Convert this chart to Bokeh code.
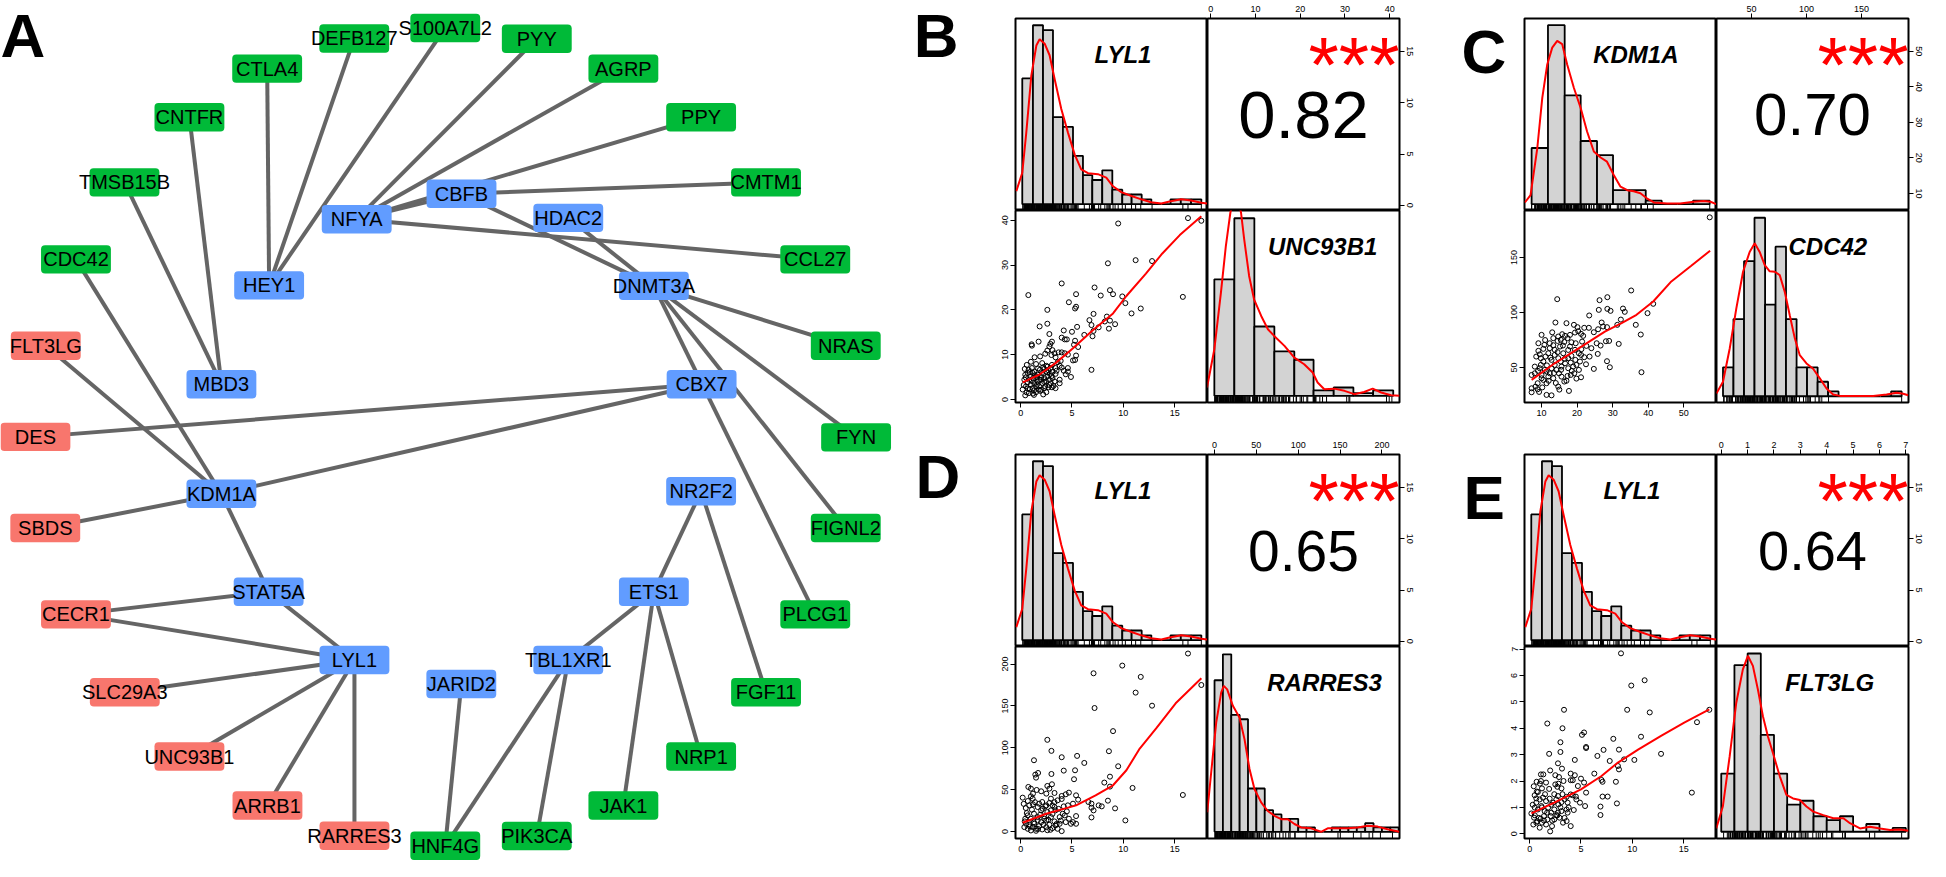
from bokeh.plotting import figure
from bokeh.models import Range1d, LinearAxis, FixedTicker, Spacer
from bokeh.layouts import row, column
from bokeh.embed import file_html
from bokeh.resources import INLINE
from bokeh.core.properties import value

FONT = "Liberation Sans"

# ---------------- Panel A: network ----------------
node_names = ["CTLA4", "DEFB127", "S100A7L2", "PYY", "AGRP", "PPY", "CMTM1", "CCL27", "NRAS", "FYN",
              "FIGNL2", "PLCG1", "FGF11", "NRP1", "JAK1", "PIK3CA", "HNF4G", "CDC42", "TMSB15B", "CNTFR",
              "RARRES3", "ARRB1", "UNC93B1", "SLC29A3", "CECR1", "SBDS", "DES", "FLT3LG",
              "HEY1", "NFYA", "CBFB", "HDAC2", "DNMT3A", "CBX7", "NR2F2", "ETS1", "TBL1XR1", "JARID2",
              "LYL1", "STAT5A", "KDM1A", "MBD3"]
node_x = [271, 359.5, 452, 545, 633, 712, 778, 828, 859, 869.5,
          859, 828, 778, 712, 633, 545, 452, 76.7, 126, 192,
          359.7, 271.3, 192, 126.3, 76.7, 45.5, 35.5, 46,
          273, 362, 468.5, 577, 664, 712.5, 712, 664, 577, 468.3,
          359.7, 272.5, 224.5, 224.5]
node_y = [69.5, 38.7, 28, 39, 69.5, 119, 185.5, 264, 352, 445.5,
          538, 626, 705.5, 771, 821, 852, 862, 264, 185.5, 119,
          851.7, 821, 771, 705.5, 626, 538, 445, 352,
          290.5, 223, 197, 221.7, 291, 391.3, 500.5, 603, 672.5, 697,
          672.5, 603, 503, 391.3]
node_group = ["green"] * 20 + ["red"] * 8 + ["blue"] * 14
group_colors = {"green": "#00BA38", "red": "#F8766D", "blue": "#619CFF"}
edges = [("HEY1", "CTLA4"), ("HEY1", "DEFB127"), ("HEY1", "S100A7L2"),
         ("NFYA", "PYY"), ("NFYA", "AGRP"), ("NFYA", "PPY"), ("NFYA", "CBFB"), ("NFYA", "CCL27"),
         ("CBFB", "CMTM1"), ("CBFB", "DNMT3A"), ("HDAC2", "DNMT3A"),
         ("DNMT3A", "NRAS"), ("DNMT3A", "FYN"), ("DNMT3A", "FIGNL2"), ("DNMT3A", "PLCG1"),
         ("CBX7", "DES"), ("CBX7", "KDM1A"), ("MBD3", "TMSB15B"), ("MBD3", "CNTFR"),
         ("KDM1A", "CDC42"), ("KDM1A", "FLT3LG"), ("KDM1A", "SBDS"), ("KDM1A", "STAT5A"),
         ("STAT5A", "CECR1"), ("STAT5A", "LYL1"),
         ("LYL1", "CECR1"), ("LYL1", "SLC29A3"), ("LYL1", "UNC93B1"), ("LYL1", "ARRB1"), ("LYL1", "RARRES3"),
         ("JARID2", "HNF4G"), ("TBL1XR1", "HNF4G"), ("TBL1XR1", "PIK3CA"), ("TBL1XR1", "ETS1"),
         ("ETS1", "NR2F2"), ("ETS1", "JAK1"), ("ETS1", "NRP1"), ("NR2F2", "FGF11")]
panel_letters = ["A", "B", "D"]
letter_x = [0, 928, 930]
letter_y = [36, 36, 485]

# ---------------- Panels B-E: pairs plots ----------------
lyl1_edges = [0.16, 1.2, 2.18, 3.15, 4.12, 5.1, 6.07, 6.98, 7.95, 8.93, 9.9, 10.81, 11.79, 12.73, 13.7, 14.6, 15.6, 16.6, 17.6]
lyl1_counts = [26, 37, 36, 18, 16, 10, 6, 5, 7, 3, 2, 2, 1, 0, 0, 1, 1, 1]
lyl1_density = [(-0.42, 2.7), (0.16, 6.5), (0.55, 14.8), (1.04, 26.6), (1.53, 32.8), (1.85, 34.1), (2.34, 33.2),
                (2.82, 30.8), (3.31, 25.9), (3.96, 19.7), (4.61, 14.8), (5.26, 10.3), (5.9, 7.2), (6.56, 6.4),
                (7.53, 6.2), (8.34, 5.5), (9.0, 3.7), (9.8, 2.5), (10.8, 1.7), (11.75, 1.0), (12.7, 0.4),
                (13.7, 0.14), (14.5, 0.55), (15.65, 1.0), (16.6, 0.76), (17.6, 0.28), (18.2, 0.14)]
unc_edges = [0.83, 5.3, 9.77, 14.24, 18.7, 23.0, 27.5, 31.9, 36.3, 40.8]
unc_counts = [42, 64, 25, 16, 13, 2, 3, 1, 2]
unc_density = [(-0.81, 3.0), (0.83, 16.8), (2.3, 37.2), (3.4, 54.0), (4.4, 65.9), (5.7, 75.5), (6.8, 65.9),
               (7.5, 56.4), (8.6, 43.2), (9.7, 34.8), (11.3, 28.8), (12.8, 24.0), (14.2, 21.6), (16.5, 18.0),
               (18.7, 13.8), (20.9, 11.4), (22.8, 8.4), (23.9, 4.8), (25.4, 2.4), (27.6, 2.6), (29.9, 1.8),
               (32.1, 0.6), (34.3, 1.4), (36.2, 2.6), (38.1, 1.2), (40.3, 0.24), (42.2, 0.0)]
kdm_edges = [7.2, 11.8, 16.5, 21.0, 25.6, 30.1, 34.7, 39.3, 43.8, 48.3, 52.6, 57.3]
kdm_counts = [16, 51, 31, 18, 14, 4, 4, 1, 0, 0, 1]
kdm_density = [(5.3, 0.48), (6.9, 2.6), (8.8, 16.0), (10.2, 30.3), (11.6, 39.8), (13.0, 44.6), (14.4, 46.5),
               (15.8, 45.6), (17.2, 39.8), (19.1, 33.1), (21.0, 27.4), (22.8, 20.7), (24.7, 15.0), (26.6, 13.3),
               (28.4, 12.1), (30.3, 8.3), (32.2, 5.0), (34.1, 4.0), (35.9, 3.7), (37.8, 3.1), (39.7, 1.6),
               (41.6, 0.5), (45.3, 0.2), (49.0, 0.2), (52.8, 0.7), (55.6, 0.9), (57.5, 0.7), (59.2, 0.0)]
cdc_edges = [24.2, 33.7, 43.3, 52.8, 62.4, 71.9, 81.4, 91.0, 100.5, 110.1, 119.6, 129.1, 138.7, 148.2,
             157.8, 167.3, 176.8, 186.4]
cdc_counts = [6, 16, 28, 37, 19, 31, 16, 6, 6, 3, 1, 0, 0, 0, 0, 0, 1]
cdc_density = [(18.2, 0.55), (24.2, 3.0), (30.3, 9.9), (36.3, 18.2), (42.4, 25.8), (48.4, 29.9), (53.0, 31.7),
               (57.5, 29.9), (62.1, 27.2), (66.6, 25.9), (71.2, 25.8), (75.7, 25.1), (80.3, 21.6), (84.8, 16.8),
               (89.4, 12.0), (93.9, 8.5), (100.0, 6.8), (106.0, 5.7), (112.1, 3.7), (118.2, 1.6), (124.2, 0.35),
               (130.3, 0.07), (145.4, 0.07), (160.6, 0.07), (172.7, 0.35), (181.8, 0.7), (187.8, 0.5), (192.4, 0.2)]
rar_edges = [0, 10, 20, 30, 40, 50, 60, 70, 80, 90, 100, 110, 120, 130, 140, 150, 160, 170, 180, 190, 200, 210, 220]
rar_counts = [35, 41, 27, 26, 10, 10, 5, 4, 3, 3, 1, 1, 0, 0, 1, 1, 1, 1, 2, 1, 1, 1]
rar_density = [(-8.75, 4.5), (-4.0, 13.7), (2.0, 25.2), (8.0, 32.2), (11.1, 33.7), (15.1, 32.9), (21.9, 29.1),
               (29.8, 26.4), (35.8, 21.4), (41.8, 14.5), (47.7, 9.9), (55.7, 6.8), (63.6, 4.8), (71.6, 3.7),
               (79.6, 2.9), (87.5, 2.9), (95.5, 1.8), (103.4, 1.0), (115.4, 0.8), (127.3, 0.0), (135.2, 0.8),
               (147.2, 0.8), (159.1, 0.8), (171.0, 1.0), (183.0, 1.4), (194.9, 1.2), (206.8, 0.6), (220.8, 0.0)]
flt_edges = [0, 0.5, 1.0, 1.5, 2.0, 2.5, 3.0, 3.5, 4.0, 4.5, 5.0, 5.5, 6.0, 6.5, 7.0]
flt_counts = [15, 43, 46, 25, 15, 7, 8, 4, 3, 4, 0, 2, 0, 1]
flt_density = [(-0.19, 0.86), (0.06, 6.5), (0.32, 19.5), (0.57, 33.3), (0.82, 41.9), (1.01, 45.4), (1.2, 42.8),
               (1.39, 36.7), (1.58, 29.8), (1.77, 24.6), (1.96, 20.3), (2.22, 14.3), (2.47, 9.5), (2.72, 8.6),
               (2.98, 8.2), (3.23, 6.5), (3.49, 5.2), (3.87, 4.3), (4.25, 3.5), (4.63, 3.5), (4.88, 2.2),
               (5.26, 0.86), (5.64, 1.3), (6.02, 0.86), (6.4, 0.43), (6.78, 0.6), (7.1, 0.26)]

B_points = [(9.5, 39.3), (16.3, 40.5), (17.6, 39.9), (8.5, 30.4), (11.2, 31.1), (12.8, 30.9), (0.75, 23.3), (4.0, 25.9),
            (5.4, 23.5), (7.2, 25.0), (8.7, 24.4), (9.0, 23.5), (7.8, 23.2), (9.9, 23.0), (15.8, 22.9), (4.7, 21.7),
            (5.3, 20.3), (5.4, 20.7), (2.6, 20.0), (10.2, 21.5), (11.7, 20.3), (10.8, 19.2), (7.1, 19.1), (8.4, 18.5),
            (8.7, 17.6), (8.2, 17.4), (9.2, 16.8), (6.7, 17.7), (6.9, 16.6), (7.6, 16.1), (8.6, 15.8), (7.1, 15.3),
            (1.85, 16.3), (2.6, 16.9), (4.2, 15.4), (5.0, 15.1), (5.5, 16.2), (2.8, 14.6), (6.2, 14.4), (7.0, 14.1),
            (4.0, 13.8), (4.3, 13.4), (4.5, 13.4), (5.3, 13.1), (1.07, 12.3), (1.1, 12.0), (1.75, 12.9), (3.05, 12.9),
            (2.9, 12.4), (2.8, 11.8), (5.2, 12.2), (5.6, 11.7), (2.6, 10.9), (3.1, 11.0), (3.3, 10.3), (3.7, 10.5),
            (4.0, 10.5), (4.3, 10.3), (4.6, 10.0), (5.4, 9.8), (1.36, 9.4), (3.4, 9.4), (3.0, 9.9), (5.3, 8.8),
            (5.1, 8.7), (0.6, 7.7), (1.5, 7.9), (2.5, 7.5), (2.1, 8.1), (6.9, 6.6), (3.8, 7.5), (4.0, 7.1),
            (4.6, 7.0), (4.6, 6.2), (3.1, 6.1), (3.4, 5.7), (4.9, 5.0), (4.4, 5.6), (3.8, 4.4), (3.8, 3.6),
            (3.05, 2.7), (2.7, 2.7), (2.3, 2.5), (1.8, 2.9), (0.45, 0.9), (0.2, 2.2), (1.2, 1.3), (1.5, 1.6),
            (2.0, 2.15), (0.52, 2.9), (0.68, 3.8), (0.84, 4.4), (1.0, 5.1), (1.17, 5.9), (0.78, 6.6), (1.1, 7.0),
            (1.33, 6.2), (1.66, 5.5), (1.88, 6.6), (2.08, 5.9), (2.3, 6.8), (2.47, 6.2), (2.7, 6.5), (2.86, 5.7),
            (2.6, 5.1), (2.3, 4.75), (1.98, 4.4), (1.66, 4.0), (1.33, 3.6), (1.0, 3.3), (1.17, 2.5), (1.5, 2.9),
            (2.14, 3.6), (2.47, 4.0), (2.8, 4.4), (3.1, 4.75), (3.3, 4.0), (0.36, 4.4), (0.45, 5.5), (0.68, 5.9),
            (0.9, 2.3), (1.75, 2.15), (2.4, 2.9), (2.95, 3.6), (3.4, 2.5), (2.6, 7.3), (3.05, 7.7), (3.4, 7.0),
            (1.23, 4.75), (1.56, 5.0), (0.58, 1.56), (1.8, 4.4),
            (0.3, 3.2), (0.5, 4.9), (0.7, 2.4), (0.9, 6.1), (1.1, 4.1), (1.3, 2.0), (1.4, 5.4), (1.6, 3.3),
            (1.7, 6.9), (1.9, 1.9), (2.0, 5.0), (2.2, 7.2), (2.3, 3.9), (2.5, 1.6), (2.6, 6.0), (2.8, 3.2),
            (2.9, 7.0), (3.0, 5.2), (3.2, 3.0), (3.5, 6.4), (3.6, 8.3), (0.4, 6.8), (1.0, 8.4), (1.9, 9.6),
            (2.4, 10.2), (3.9, 8.6), (4.2, 6.4), (1.3, 1.0), (0.8, 1.4), (2.2, 1.1)]
C_points = [(57.3, 186.4), (14.4, 112.1), (35.2, 120), (28.5, 113.9), (26.3, 111.2), (26.1, 102.4), (28.5, 103.3),
            (29.4, 101.5), (32.9, 103.6), (33.4, 100.6), (41.4, 107.9), (39.8, 99.4), (23.4, 97.3), (13.9, 90.9),
            (17.0, 90.3), (26.9, 90.9), (32.3, 93.6), (31.3, 88.8), (36.5, 88.8), (19.1, 88.8), (20.1, 86.7),
            (22.0, 86.1), (23.3, 86.1), (25.9, 84.8), (27.3, 87.3), (28.4, 86.7), (10.0, 79.7), (14.7, 78.2),
            (15.8, 80.3), (16.6, 78.8), (18.0, 79.7), (19.4, 81.8), (20.3, 83.0), (21.1, 80.6), (21.7, 78.8),
            (24.7, 82.1), (37.9, 80.0), (9.1, 72.1), (9.1, 65.2), (10.8, 70.6), (12.3, 72.1), (13.3, 70.3),
            (13.7, 66.1), (14.5, 74.2), (15.4, 75.2), (16.4, 73.3), (17.3, 76.7), (18.4, 73.0), (19.6, 72.1),
            (21.4, 73.6), (22.6, 69.7), (25.5, 72.1), (26.6, 70.0), (28.1, 73.9), (29.0, 74.2), (31.7, 71.5),
            (25.8, 62.4), (9.8, 58.5), (10.5, 55.5), (11.1, 60.0), (11.9, 63.0), (12.8, 57.0), (13.7, 61.5),
            (14.7, 58.5), (15.4, 55.5), (16.1, 63.0), (17.5, 58.5), (18.2, 54.5), (18.4, 60.6), (19.8, 52.4),
            (20.8, 55.5), (21.1, 61.5), (22.0, 59.4), (20.5, 47.9), (28.4, 55.8), (29.2, 50.3), (24.7, 48.8),
            (38.1, 45.8), (8.1, 44.8), (7.2, 43.3), (9.5, 49.4), (10.0, 43.3), (10.9, 47.9), (11.9, 41.8),
            (12.3, 44.8), (13.3, 40.3), (14.2, 47.9), (14.9, 44.8), (15.6, 41.8), (16.4, 37.3), (17.3, 42.4),
            (18.2, 43.3), (19.2, 44.8), (21.1, 41.2), (14.7, 32.7), (11.4, 35.8), (10.5, 38.8), (8.9, 35.8),
            (8.3, 32.7), (7.2, 31.2), (7.2, 27.6), (8.9, 30.3), (9.3, 27.9), (17.7, 28.8), (11.4, 25.2),
            (12.8, 24.8), (10.0, 40.3), (11.4, 46.4), (12.8, 49.4), (13.7, 52.4), (15.6, 50.9), (16.6, 53.9),
            (17.5, 49.4), (18.9, 50.9), (19.4, 66.1), (21.2, 66.7), (24.0, 67.6), (12.3, 67.6), (15.2, 69.1),
            (18.0, 69.1), (13.3, 76.7), (9.8, 52.4), (8.1, 50.9),
            (9.5, 62), (10.5, 67), (11.5, 52), (12.5, 59), (13.5, 45), (14.5, 64), (15.5, 48), (16.5, 58),
            (17.5, 66), (18.5, 47), (19.5, 57), (20.5, 63), (11.0, 75), (13.0, 82), (16.0, 70), (9.0, 47),
            (12.0, 38), (14.0, 36), (17.0, 38), (19.8, 40), (22.5, 53), (23.5, 60), (8.5, 60), (10.2, 32),
            (15.0, 30)]
D_points = [(16.3, 212.6), (17.6, 175), (9.9, 198.2), (7.1, 189), (11.7, 184.7), (11.2, 165.9), (7.2, 147.5),
            (12.8, 150.3), (2.6, 109.5), (9.0, 119.9), (3.0, 96.3), (8.6, 95.9), (4.0, 88.7), (5.5, 90.3),
            (1.3, 85.1), (6.2, 81.9), (9.5, 77.9), (4.2, 72.7), (5.3, 73.1), (1.43, 67.9), (1.7, 69.9), (1.5, 64.3),
            (3.0, 68.7), (5.2, 62.4), (8.7, 65.5), (8.15, 58.4), (8.7, 53.6), (10.9, 52.0), (15.8, 43.6),
            (0.75, 53.2), (1.0, 51.2), (1.56, 49.6), (1.2, 45.2), (2.6, 54.4), (2.8, 51.2), (3.05, 56.4),
            (2.5, 45.2), (3.3, 46.0), (4.0, 42.4), (4.4, 44.4), (4.7, 46.4), (5.4, 43.2), (5.6, 38.0), (0.2, 40.4),
            (0.7, 36.4), (0.5, 28.0), (0.84, 31.2), (1.2, 32.4), (1.8, 33.2), (2.1, 35.2), (2.5, 31.2), (2.8, 34.0),
            (3.1, 31.2), (3.6, 37.2), (4.0, 38.8), (4.6, 31.2), (5.1, 33.2), (6.6, 35.2), (6.9, 33.2), (6.9, 28.4),
            (7.6, 31.2), (7.9, 30.0), (7.1, 25.2), (8.5, 36.8), (9.2, 27.6), (10.2, 13.2), (6.9, 16.8), (5.4, 18.4),
            (4.1, 21.2), (4.3, 19.2), (3.4, 25.2), (2.6, 23.2), (2.0, 25.2), (1.3, 21.2), (0.68, 19.2), (0.45, 15.2),
            (1.0, 15.2), (1.66, 17.2), (2.3, 15.2), (2.95, 17.2), (3.3, 12.0), (3.8, 9.2), (4.4, 11.2), (4.9, 9.2),
            (5.1, 11.2), (0.36, 5.2), (0.7, 3.2), (1.0, 1.2), (1.17, 5.2), (1.5, 3.2), (1.8, 6.4), (2.1, 2.4),
            (2.5, 5.2), (2.8, 8.0), (3.1, 4.0), (3.4, 7.2), (3.6, 3.2), (4.0, 0.4), (0.52, 9.2), (0.84, 8.0),
            (1.33, 9.2), (2.0, 11.2), (2.5, 13.2), (2.14, 27.2), (2.95, 39.2), (3.3, 29.2), (1.66, 29.2),
            (1.17, 39.2), (2.95, 25.2), (3.8, 17.2), (4.7, 15.2), (5.4, 9.2), (1.66, 13.2),
            (0.4, 12), (0.6, 22), (0.9, 6), (1.1, 26), (1.3, 11), (1.4, 35), (1.7, 3), (1.9, 20), (2.2, 8),
            (2.4, 30), (2.7, 14), (2.9, 2), (3.1, 21), (3.3, 35), (3.5, 9), (3.7, 27), (0.3, 33), (1.0, 42),
            (2.0, 48), (2.3, 18), (3.9, 13), (4.2, 30), (4.5, 24), (1.5, 0.8), (2.6, 1.5)]
E_points = [(8.9, 6.84), (11.2, 5.82), (9.9, 5.62), (9.5, 4.7), (11.7, 4.6), (3.35, 4.7), (1.72, 4.18), (16.3, 4.23),
            (17.5, 4.7), (3.2, 4.0), (5.1, 3.75), (5.3, 3.84), (8.15, 3.6), (10.85, 3.68), (3.0, 3.47), (5.5, 3.25),
            (5.5, 3.29), (7.2, 3.18), (8.7, 3.19), (3.0, 3.1), (1.9, 3.03), (6.6, 2.95), (12.8, 3.03), (4.4, 2.8),
            (7.8, 2.76), (9.2, 2.82), (10.2, 2.8), (2.76, 2.67), (3.15, 2.47), (8.6, 2.57), (8.7, 2.44), (1.1, 2.25),
            (1.33, 2.25), (2.5, 2.22), (2.86, 2.15), (4.0, 2.28), (4.4, 2.22), (6.3, 2.28), (0.68, 1.97), (1.6, 1.94),
            (1.2, 1.72), (2.5, 1.87), (2.7, 1.78), (3.1, 1.72), (4.0, 2.03), (4.2, 2.03), (5.0, 2.09), (5.3, 1.94),
            (7.0, 2.04), (7.1, 1.97), (8.4, 1.97), (4.7, 1.81), (5.5, 1.56), (4.2, 1.46), (4.5, 1.41), (7.1, 1.41),
            (7.6, 1.41), (15.8, 1.56), (5.4, 1.05), (6.9, 1.03), (8.5, 1.15), (6.9, 0.71), (0.17, 0.77), (0.65, 1.34),
            (0.65, 1.18), (0.98, 1.30), (1.3, 1.37), (1.6, 1.24), (1.95, 1.33), (2.3, 1.18), (2.6, 1.30), (2.76, 1.43),
            (2.8, 1.11), (3.1, 1.2), (3.4, 1.30), (3.7, 1.18), (4.0, 1.49), (4.55, 1.30), (4.9, 1.18), (0.5, 0.99),
            (0.8, 0.92), (1.14, 1.05), (1.46, 0.86), (1.8, 0.99), (2.1, 0.80), (2.4, 0.92), (2.76, 0.80), (3.1, 0.86),
            (3.6, 0.92), (3.7, 0.80), (0.43, 0.61), (0.75, 0.48), (1.07, 0.57), (1.4, 0.67), (1.73, 0.54),
            (2.05, 0.67), (2.4, 0.54), (2.7, 0.70), (2.9, 0.61), (3.25, 0.42), (3.6, 0.48), (4.0, 0.29), (0.36, 0.35),
            (0.65, 0.42), (1.2, 0.42), (1.6, 0.35), (2.18, 0.29), (2.0, 0.09), (0.98, 0.23), (0.49, 1.46), (0.8, 1.58),
            (0.3, 1.1), (0.5, 0.7), (0.7, 1.6), (0.9, 0.6), (1.0, 1.9), (1.2, 1.0), (1.4, 0.5), (1.5, 1.5),
            (1.7, 0.8), (1.9, 1.7), (2.1, 1.1), (2.2, 0.5), (2.4, 1.5), (2.6, 0.7), (2.8, 1.9), (3.0, 1.0),
            (3.2, 1.5), (3.4, 0.6), (3.6, 1.4), (3.8, 1.0), (1.1, 2.0), (2.0, 2.4), (0.4, 1.8), (4.3, 0.9),
            (3.3, 2.0)]
B_loess = [(0.2, 3.8), (1.8, 5.5), (3.4, 8.1), (5.1, 11.4), (7.0, 15.4), (9.0, 19.2), (10.3, 23.1), (12.2, 28.1),
           (13.8, 32.6), (15.5, 36.7), (17.6, 40.9)]
C_loess = [(7.2, 38.8), (13.7, 53.9), (21.2, 69.1), (27.8, 82.7), (32.5, 90.3), (36.7, 97.9), (41.4, 110),
           (46.5, 128.2), (52.1, 142.4), (57.4, 156.1)]
D_loess = [(0.2, 10.4), (2.5, 21.2), (5.4, 31.2), (7.3, 43.2), (9.0, 55.2), (10.3, 73.1), (11.6, 99.1), (13.2, 123.1),
           (15.1, 153.1), (17.6, 183.1)]
E_loess = [(0.17, 0.77), (2.4, 1.18), (5.0, 1.68), (7.0, 2.19), (8.6, 2.7), (10.6, 3.2), (12.8, 3.71), (15.1, 4.22),
           (17.5, 4.72)]
correlations = ["0.82", "0.70", "0.65", "0.64"]
significance = ["***", "***", "***", "***"]


def unzip(pts):
    return [p[0] for p in pts], [p[1] for p in pts]


B_x, B_y = unzip(B_points)
C_x, C_y = unzip(C_points)
D_x, D_y = unzip(D_points)
E_x, E_y = unzip(E_points)

genes = {
    "LYL1": dict(range=(-0.5, 18.2), ticks=[0, 5, 10, 15], edges=lyl1_edges, counts=lyl1_counts,
                 hrange=(-1.31, 38.4), density=lyl1_density, rug=B_x, name_f=0.56),
    "UNC93B1": dict(range=(-0.7, 42.2), ticks=[0, 10, 20, 30, 40], edges=unc_edges, counts=unc_counts,
                    hrange=(-2.4, 66.8), density=unc_density, rug=B_y, name_f=0.60),
    "KDM1A": dict(range=(5.2, 59.2), ticks=[10, 20, 30, 40, 50], edges=kdm_edges, counts=kdm_counts,
                  hrange=(-1.8, 52.9), density=kdm_density, rug=C_x, name_f=0.58),
    "CDC42": dict(range=(18.3, 192.6), ticks=[50, 100, 150], edges=cdc_edges, counts=cdc_counts,
                  hrange=(-1.3, 38.5), density=cdc_density, rug=C_y, name_f=0.58),
    "RARRES3": dict(range=(-8.4, 221), ticks=[0, 50, 100, 150, 200], edges=rar_edges, counts=rar_counts,
                    hrange=(-1.55, 42.8), density=rar_density, rug=D_y, name_f=0.61),
    "FLT3LG": dict(range=(-0.18, 7.1), ticks=[0, 1, 2, 3, 4, 5, 6, 7], edges=flt_edges, counts=flt_counts,
                   hrange=(-1.74, 47.8), density=flt_density, rug=E_y, name_f=0.59),
}

W = 192


def frac(rng, f):
    return rng[0] + f * (rng[1] - rng[0])


def make_cell(w, h, xr, yr, ml=0, mr=0, mt=0, mb=0):
    p = figure(width=w, height=h, x_range=Range1d(*xr), y_range=Range1d(*yr),
               output_backend="svg", toolbar_location=None,
               x_axis_location=None, y_axis_location=None,
               min_border_left=ml, min_border_right=mr, min_border_top=mt, min_border_bottom=mb)
    p.grid.visible = False
    p.outline_line_color = "black"
    p.outline_line_width = 2
    p.outline_line_alpha = 1
    p.background_fill_color = "white"
    p.border_fill_color = "white"
    return p


def add_axis(p, side, ticks):
    ax = LinearAxis(ticker=FixedTicker(ticks=ticks), bounds=(ticks[0], ticks[-1]))
    ax.major_label_text_font = FONT
    ax.major_label_text_font_size = "9px"
    ax.major_label_text_color = "black"
    ax.major_tick_out = 5
    ax.major_tick_in = 0
    ax.minor_tick_out = 0
    ax.minor_tick_in = 0
    ax.major_label_standoff = 2
    ax.axis_line_color = "black"
    ax.major_tick_line_color = "black"
    if side in ("left", "right"):
        ax.major_label_orientation = "vertical"
    p.add_layout(ax, side)


def hist_cell(g, w, h, ml, mr, mt, mb):
    v = genes[g]
    p = make_cell(w, h, v["range"], v["hrange"], ml, mr, mt, mb)
    e = v["edges"]
    p.quad(left=e[:-1], right=e[1:], bottom=0, top=v["counts"], fill_color="#D3D3D3",
           line_color="black", line_width=1.8)
    y0 = v["hrange"][0]
    y1 = y0 + 0.032 * (v["hrange"][1] - v["hrange"][0])
    n = len(v["rug"])
    p.segment(x0=v["rug"], y0=[y0] * n, x1=v["rug"], y1=[y1] * n, line_color="black", line_width=1)
    dx, dy = unzip(v["density"])
    p.line(dx, dy, line_color="red", line_width=2)
    p.text(x=[frac(v["range"], v["name_f"])], y=[frac(v["hrange"], 0.81)], text=[g],
           text_font=value(FONT), text_font_size="24px", text_font_style="bold italic",
           text_align="center", text_baseline="middle", text_color="black")
    return p


def letter_fig(w, h, letter, lx, ly):
    p = figure(width=w, height=h, x_range=Range1d(0, w), y_range=Range1d(h, 0),
               output_backend="svg", toolbar_location=None, x_axis_location=None, y_axis_location=None,
               min_border=0)
    p.grid.visible = False
    p.outline_line_color = None
    p.text(x=[lx], y=[ly], text=[letter], text_font=value(FONT), text_font_size="62px",
           text_font_style="bold", text_align="left", text_baseline="middle", text_color="black")
    return p


def pairs(rg, cg, sx, sy, loess, corr, corr_size, sig, L, R, T, Bm, letter=None, LW=0, lx=0, ly=0):
    rv, cv = genes[rg], genes[cg]
    tl = hist_cell(rg, L + W, T + W, L, 0, T, 0)
    tr = make_cell(W + R, T + W, cv["range"], rv["range"], 0, R, T, 0)
    add_axis(tr, "above", cv["ticks"])
    add_axis(tr, "right", rv["ticks"])
    tr.text(x=[frac(cv["range"], 0.5)], y=[frac(rv["range"], 0.5)], text=[corr],
            text_font=value(FONT), text_font_size=f"{corr_size}px", text_align="center",
            text_baseline="middle", text_color="black")
    tr.text(x=[frac(cv["range"], 1.0)], y=[frac(rv["range"], 0.76)], text=[sig],
            text_font=value(FONT), text_font_size="78px", text_align="right",
            text_baseline="middle", text_color="red")
    bl = make_cell(L + W, W + Bm, rv["range"], cv["range"], L, 0, 0, Bm)
    add_axis(bl, "left", cv["ticks"])
    add_axis(bl, "below", rv["ticks"])
    bl.scatter(sx, sy, marker="circle", size=5, fill_color=None, line_color="black", line_width=1)
    lx_, ly_ = unzip(loess)
    bl.line(lx_, ly_, line_color="red", line_width=2)
    br = hist_cell(cg, W + R, W + Bm, 0, R, 0, Bm)
    if letter:
        top = row(letter_fig(LW, T + W, letter, lx, ly), tl, tr, spacing=0)
        bot = row(Spacer(width=LW, height=W + Bm), bl, br, spacing=0)
    else:
        top = row(tl, tr, spacing=0)
        bot = row(bl, br, spacing=0)
    return column(top, bot, spacing=0)


# ---- network figure ----
pA = figure(width=984, height=860, x_range=Range1d(0, 1000), y_range=Range1d(877, 0),
            output_backend="svg", toolbar_location=None, x_axis_location=None, y_axis_location=None,
            min_border=0)
pA.grid.visible = False
pA.outline_line_color = None
idx = {n: i for i, n in enumerate(node_names)}
pA.segment(x0=[node_x[idx[a]] for a, b in edges], y0=[node_y[idx[a]] for a, b in edges],
           x1=[node_x[idx[b]] for a, b in edges], y1=[node_y[idx[b]] for a, b in edges],
           line_color="#656565", line_width=4)
BW, BH = 71, 29
pA.quad(left=[x - BW / 2 for x in node_x], right=[x + BW / 2 for x in node_x],
        top=[y - BH / 2 for y in node_y], bottom=[y + BH / 2 for y in node_y],
        fill_color=[group_colors[g] for g in node_group], line_color=None, border_radius=4)
pA.text(x=node_x, y=node_y, text=node_names, text_align="center", text_baseline="middle",
        text_font=value(FONT), text_font_size="20px", text_color="black")
pA.text(x=letter_x, y=letter_y, text=panel_letters, text_align="left", text_baseline="middle",
        text_font=value(FONT), text_font_size="62px", text_font_style="bold", text_color="black")

T1, B1, T2, B2 = 18, 26, 26, 22
LB, RB = 31, 24
LC, RC, LWC = 18, 22, 83
pB = pairs("LYL1", "UNC93B1", B_x, B_y, B_loess, correlations[0], 67, significance[0], LB, RB, T1, B1)
pC = pairs("KDM1A", "CDC42", C_x, C_y, C_loess, correlations[1], 60, significance[1], LC, RC, T1, B1,
           letter="C", LW=LWC, lx=38, ly=36)
pD = pairs("LYL1", "RARRES3", D_x, D_y, D_loess, correlations[2], 57, significance[2], LB, RB, T2, B2)
pE = pairs("LYL1", "FLT3LG", E_x, E_y, E_loess, correlations[3], 56, significance[3], LC, RC, T2, B2,
           letter="E", LW=LWC, lx=40, ly=49)

right = column(row(pB, pC, spacing=0), row(pD, pE, spacing=0), spacing=0)
layout = row(pA, right, spacing=0)

open("out.html", "w").write(file_html(layout, INLINE, title="Network and correlations"))
